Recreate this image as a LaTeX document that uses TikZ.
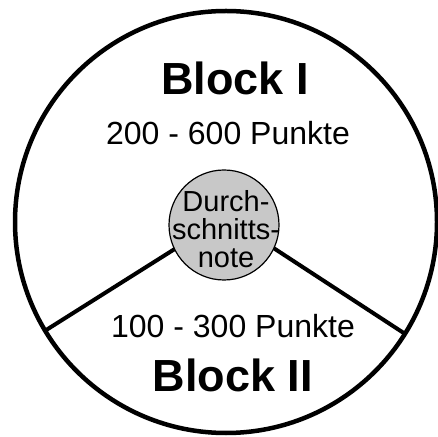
\documentclass[tikz,border=0pt]{standalone}
\usepackage{fontspec}
\setmainfont{Liberation Sans}
\definecolor{notegray}{RGB}{200,200,200}
\begin{document}
\begin{tikzpicture}[x=1pt,y=1pt,
  bigring/.style={circle,draw,line width=4.5pt,minimum size=422pt,inner sep=0pt,outer sep=0pt},
  notedisc/.style={circle,draw,fill=notegray,line width=1.2pt,minimum size=110pt,inner sep=0pt,outer sep=0pt},
  divider/.style={line width=4pt},
  blocklabel/.style={font=\fontsize{45}{54}\selectfont\bfseries,anchor=base,inner sep=0pt},
  pointslabel/.style={font=\fontsize{32}{38}\selectfont,anchor=base,inner sep=0pt},
  notetext/.style={font=\fontsize{29}{28}\selectfont,align=center,inner sep=0pt}]
\useasboundingbox (0,0) rectangle (438,436);
\node[bigring] (outer) at (226,214) {};
\node[notedisc] (inner) at (224,211) {};
\node[notetext] (innertext) at (226,207) {Durch-\\schnitts-\\note};
\draw[divider] (inner.206) -- (outer.211.3);
\draw[divider] (inner.335) -- (outer.328.9);
\node[blocklabel] (blockone) at (235,341) {Block I};
\node[pointslabel] (pointsone) at (228,291) {200 - 600 Punkte};
\node[pointslabel] (pointstwo) at (233,99) {100 - 300 Punkte};
\node[blocklabel] (blocktwo) at (233,45) {Block II};
\end{tikzpicture}
\end{document}
